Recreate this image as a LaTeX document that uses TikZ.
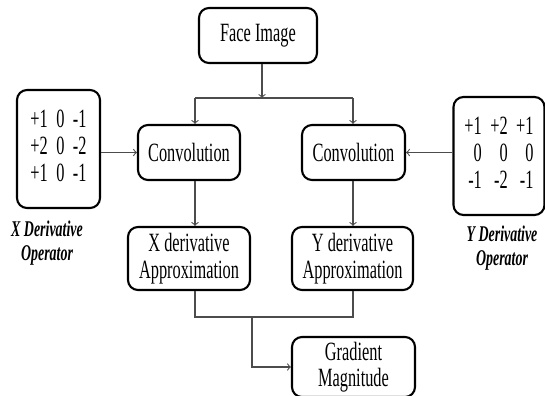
\documentclass[tikz,border=0pt]{standalone}
\usepackage{fontspec}
\setmainfont{Liberation Serif}[FakeStretch=0.62]
\usetikzlibrary{arrows,positioning,calc}

\tikzset{
  blk/.style={draw,line width=1.2pt,rounded corners=0.2cm,align=center,
    inner sep=0pt,font=\fontsize{15}{15}\selectfont},
  lnk/.style={draw=black!70,line width=0.6pt},
  opname/.style={align=center,font=\fontsize{12.8}{14}\selectfont\bfseries\itshape}
}
\newcommand{\kernelrows}[1]{{\setlength{\tabcolsep}{2.4pt}%
  \fontsize{15}{15.5}\selectfont
  \begin{tabular}{@{}rrr@{}}#1\end{tabular}}}

\begin{document}
\begin{tikzpicture}[x=0.02cm,y=-0.02cm]
  \useasboundingbox (0,0) rectangle (545,396);
  % boxes
  \node[blk,minimum width=2.36cm,minimum height=1.1cm] (face) at (258,35.5) {Face Image};
  \node[blk,minimum width=2.04cm,minimum height=1.1cm] (convL) at (189,152.5) {Convolution};
  \node[blk,minimum width=2.06cm,minimum height=1.1cm] (convR) at (353.5,152.5) {Convolution};
  \node[blk,minimum width=2.44cm,minimum height=1.26cm] (apxL) at (189,258.5) {X derivative\\Approximation};
  \node[blk,minimum width=2.42cm,minimum height=1.26cm] (apxR) at (352.5,258.5) {Y derivative\\Approximation};
  \node[blk,minimum width=2.46cm,minimum height=1.2cm] (grad) at (353.5,367) {Gradient\\Magnitude};
  % operators
  \node[blk,minimum width=1.66cm,minimum height=2.36cm] (xop) at (58.5,149)
    {\kernelrows{+1&0&-1\\+2&0&-2\\+1&0&-1}};
  \node[blk,minimum width=1.82cm,minimum height=2.36cm] (yop) at (499,156)
    {\kernelrows{+1&+2&+1\\0&0&0\\-1&-2&-1}};
  \node[opname] (xname) at (47,243) {X Derivative\\Operator};
  \node[opname] (yname) at (502,248) {Y Derivative\\Operator};
  % junctions
  \coordinate (jT) at (262,98);
  \coordinate (jL) at (195,98);
  \coordinate (jR) at (353,98);
  \coordinate (jB) at (252,317);
  % connectors
  \draw[lnk,->] (face.south -| jT) -- (jT);
  \draw[lnk] (jL) -- (jR);
  \draw[lnk,->] (jL) -- (jL |- convL.north);
  \draw[lnk,->] (jR) -- (jR |- convR.north);
  \draw[lnk,->] (xop.east |- convL.west) -- (convL.west);
  \draw[lnk,->] (yop.west |- convR.east) -- (convR.east);
  \draw[lnk,->] (convL.south -| jL) -- (apxL.north -| jL);
  \draw[lnk,->] (convR.south -| jR) -- (apxR.north -| jR);
  \draw[lnk] (apxL.south -| jL) -- (jL |- jB) -- (jR |- jB) -- (apxR.south -| jR);
  \draw[lnk,->] (jB) |- (grad.west);
\end{tikzpicture}
\end{document}
